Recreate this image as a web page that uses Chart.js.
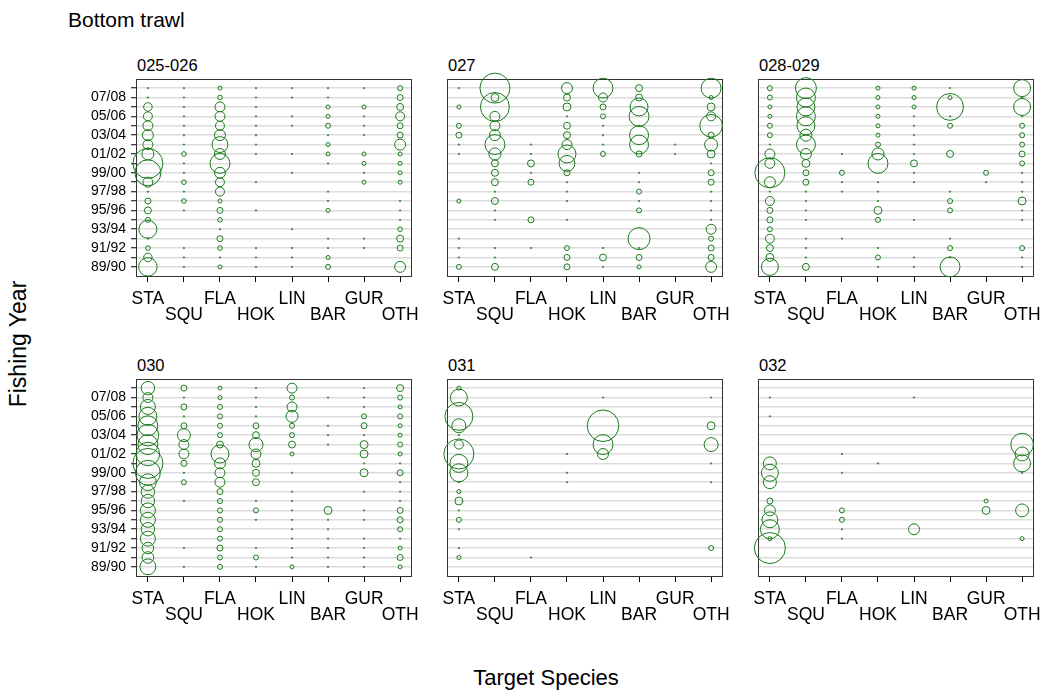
<!DOCTYPE html>
<html><head><meta charset="utf-8">
<script src="https://cdn.jsdelivr.net/npm/chart.js@4.4.1/dist/chart.umd.min.js"></script>
<style>
html,body{margin:0;padding:0;background:#fff;}
#wrap{position:relative;width:1042px;height:693px;overflow:hidden;background:#fff;font-family:"Liberation Sans",Arial,sans-serif;color:#000;}
.t{position:absolute;white-space:nowrap;}
canvas{position:absolute;}
</style></head><body>
<div id="wrap">
  <div class="t" style="left:68px;top:7px;font-size:21px;line-height:26px;">Bottom trawl</div>
  <div class="t" style="left:18px;top:344px;font-size:23px;line-height:26px;transform:translate(-50%,-50%) rotate(-90deg);">Fishing Year</div>
  <div class="t" style="left:546px;top:678px;font-size:22px;line-height:26px;transform:translate(-50%,-50%);">Target Species</div>
</div>
<script>
const species = ['STA','SQU','FLA','HOK','LIN','BAR','GUR','OTH'];
const years = ['89/90','90/91','91/92','92/93','93/94','94/95','95/96','96/97','97/98','98/99',
               '99/00','00/01','01/02','02/03','03/04','04/05','05/06','06/07','07/08','08/09'];
const yearTickLabels = ['89/90','91/92','93/94','95/96','97/98','99/00','01/02','03/04','05/06','07/08'];
const areaNames = ['025-026','027','028-029','030','031','032'];

// relative catch per species (rows, order as species) and fishing year (columns, 89/90 .. 08/09)
const area025_026 = [
  [38,8,2.4,0.2,36,2.8,5.4,4,0.2,11,75,100,16,11,13.4,11,9,8,0.2,0.2],
  [0.2,0.2,0.2,0,0,0,0.2,2.4,0.2,2.4,0.2,0.2,2.4,0.2,0.2,0.2,0.2,0.2,0.2,0.2],
  [1.8,0.2,2.4,4,0.2,2.4,4,1.8,9,9,13.4,44,13.4,28,13.4,9,11,11,2.4,1.8],
  [0.2,0.2,0.2,0,0,0,0.2,0,0,0.2,0,0,0.2,0.2,0.2,0.2,0.2,0.2,0.2,0.2],
  [0.2,0.2,0.2,0,0.2,0,0,0,0,0,0.2,0,0.2,0,0,0.2,0.2,0,0.2,0.2],
  [2.8,1.8,0.2,0.2,0,0,1.8,0.2,0.2,0,0,0.2,1.8,1.8,0.2,2.8,1.8,1.8,0.2,0.2],
  [0,0,0.2,0.2,0,0,0,0,0,1.8,0.2,1.8,1.8,0,0.2,0.2,0.2,1.8,0,0.2],
  [13.4,0,4,5.4,2.4,0.2,0.2,0.2,0,1.8,1.8,1.8,1.8,13.4,4,4,9,5.4,4,2.8]
];
const area027 = [
  [2.8,0.2,0.2,0.2,0,0,0,1.8,0,0,0,0,0.2,0.2,4,2.8,0,1.8,0,0.2],
  [5.4,0.2,0.2,0,0,0.2,0.2,5.4,0.2,5.4,5.4,5.4,16,44,13.4,11,11,93,7,100],
  [0,0,0.2,0,0,4,0,0,0,4,0.2,5.4,0.2,0.2,0,0,0,0,0,0],
  [4,4,2.8,0,0,0.2,0,0.2,0.2,0.2,4,28,36,11,5.4,5.4,0.2,7,5.4,13.4],
  [0.2,5.4,0.2,0,0,0,0,0,0,0,0,0,2.8,0.2,0.2,0.2,2.8,4,9,44],
  [1.8,4,0.2,54,0,0,2.8,0.2,2.8,0.2,0.2,0,4,40,40,0.2,44,36,5.4,5.4],
  [0,0,0,0,0,0,0,0,0,0,0,0,0.2,0.2,0,0,0,0,0,0],
  [13.4,4,4,2.8,11,0.2,0.2,0.2,0.2,4,4,0.2,7,18.8,4,57,9,7,1.8,44]
];
const area028_029 = [
  [32,7,5.4,9,2.8,4,4,9,0.2,13.4,100,11,11,0.2,2.8,2.8,1.8,1.8,2.8,2.8],
  [5.4,0.2,0.2,0.2,0,0.2,0.2,0.2,0.2,4,4,7,13.4,40,16,36,40,36,40,49],
  [0,0,0,0.2,0,0,0,0,0.2,0.2,2.8,0,0.2,0,0,0,0,0,0,0],
  [0.2,2.8,0.2,0,0,2.8,7,0.2,0.2,0.2,0,44,16,2.8,1.8,1.8,1.8,1.8,1.8,1.8],
  [0.2,0.2,0,0,0,0.2,0,0,0,0.2,0.2,5.4,0.2,0.2,0.2,0.2,0.2,1.8,1.8,1.8],
  [44,0.2,2.8,0.2,0,0,2.8,2.8,0.2,0,0,0,5.4,0,0,2.8,0.2,80,1.8,0.2],
  [0,0,0,0,0,0,0,0,0,0.2,2.8,0,0,0,0,0,0,0,0,0],
  [0.2,0.2,2.8,0,0,0.2,0.2,7,0.2,0.2,0.2,2.8,4,2.8,2.8,2.8,0.2,32,0.2,32]
];
const area030 = [
  [28,15,15,25,20,25,25,20,20,31,69,100,61,44,52,44,36,25,11,20],
  [0.2,0,0.2,0,0,0,0,0.2,0,2.8,0.2,4,11,11,18.8,4,0.2,4,0.2,4],
  [2.8,2.8,4,2.8,2.8,2.8,2.8,2.8,4,11,11,13.4,36,5.4,2.8,2.8,2.8,2.8,1.8,1.8],
  [0.2,2.8,0.2,0,0,0.2,2.8,0.2,0,5.4,5.4,7,11,21.8,5.4,4,0.2,0.2,0.2,0.2],
  [1.8,0.2,0.2,0.2,0.2,0.2,0.2,0.2,0.2,0,0.2,0,1.8,5.4,2.8,2.8,16,11,2.8,11],
  [0.2,0.2,0.2,0.2,0.2,0.2,7,0,0,0,0,0,0,0.2,0.2,0.2,0,0,0.2,0],
  [0.2,0.2,0.2,0.2,0,0.2,0.2,0,0.2,0,7,0.2,7,7,0.2,4,2.8,0.2,0.2,0.2],
  [1.8,4,1.8,0.2,2.8,4,4,0.2,0.2,0.2,4,0.2,1.8,2.8,1.8,1.8,2.8,1.8,2.8,5.4]
];
const area031 = [
  [0,1.8,0.2,0,0.2,2.8,0.2,7,1.8,0.2,36,36,100,9,0.2,21.8,87,0,32,1.8],
  [0,0,0,0,0,0,0,0,0,0,0,0,0,0,0,0,0,0,0,0],
  [0,0.2,0,0,0,0,0,0,0,0,0,0,0,0,0,0,0,0,0,0],
  [0,0,0,0,0,0,0,0,0,0.2,0.2,0,0.2,0,0,0,0,0,0,0],
  [0,0,0,0,0,0,0,0,0,0,0,0,13.4,44,0,111,0,0,0.2,0],
  [0,0,0,0,0,0,0,0,0,0,0,0,0,0,0,0,0,0,0,0],
  [0,0,0,0,0,0,0,0,0,0,0,0,0,0,0,0,0,0,0,0],
  [0,0,2.8,0,0,0,0,0,0,0.2,0,0.2,0,21.8,0,7,0,0,0.2,0]
];
const area032 = [
  [0,0,107,1.8,40,28,13.4,4,0,18.8,32,18.8,0,0,0,0,0.2,0,0.2,0],
  [0,0,0,0,0,0,0,0,0,0,0,0,0,0,0,0,0,0,0,0],
  [0,0,0,0.2,0.2,2.8,2.8,0,0,0,0.2,0,0.2,0,0,0,0,0,0,0],
  [0,0,0,0,0,0,0,0,0,0,0,0.2,0,0,0,0,0,0,0,0],
  [0,0,0,0,13.4,0,0,0,0,0,0,0,0,0,0,0,0,0,0.2,0],
  [0,0,0,0,0,0,0,0,0,0,0,0,0,0,0,0,0,0,0,0],
  [0,0,0,0,0,0,7,1.8,0,0,0,0,0,0,0,0,0,0,0,0],
  [0,0,0,1.8,0,0,18.8,0,0,0,0.2,32,21.8,57,0,0,0,0,0,0]
];
const areaData = [area025_026, area027, area028_029, area030, area031, area032];

// ---- layout (not data) ----
Chart.defaults.font.family = '"Liberation Sans", Arial, sans-serif';
Chart.defaults.color = '#000';
const PW = 276, PH = 197;
const lefts = [136, 447, 758], tops = [79, 379];
const PADL = 70, PADT = 20, PADR = 20, PADB = 58;
const green = '#1a7a1a';
const sizeToRadius = v => 1.5 * Math.sqrt(v);

const frame = {
  id: 'frame',
  beforeDatasetsDraw(chart) {
    const {ctx, chartArea: a} = chart;
    ctx.save();
    ctx.strokeStyle = '#333';
    ctx.lineWidth = 1;
    ctx.strokeRect(Math.round(a.left) + 0.5, Math.round(a.top) + 0.5,
                   Math.round(a.right - a.left) - 1, Math.round(a.bottom - a.top));
    ctx.restore();
  }
};

const wrap = document.getElementById('wrap');
areaNames.forEach((name, p) => {
  const col = p % 3, row = Math.floor(p / 3);
  const pl = lefts[col], pt = tops[row];
  const showY = col === 0;

  const title = document.createElement('div');
  title.className = 't';
  title.style.cssText = `left:${pl + 1}px;top:${pt - 23}px;font-size:16.5px;line-height:18px;`;
  title.textContent = name;
  wrap.appendChild(title);

  const cv = document.createElement('canvas');
  cv.width = PW + PADL + PADR; cv.height = PH + PADT + PADB;
  cv.style.left = (pl - PADL) + 'px'; cv.style.top = (pt - PADT) + 'px';
  cv.style.width = cv.width + 'px'; cv.style.height = cv.height + 'px';
  wrap.appendChild(cv);

  const points = [];
  areaData[p].forEach((vals, s) => vals.forEach((v, y) => {
    if (v > 0) points.push({x: s, y: y, r: sizeToRadius(v)});
  }));

  new Chart(cv, {
    type: 'bubble',
    data: {datasets: [{data: points, backgroundColor: 'rgba(0,0,0,0)', borderColor: green,
                       borderWidth: 1, clip: false}]},
    options: {
      responsive: false, animation: false, devicePixelRatio: 1, events: [],
      layout: {padding: {left: 0, top: PADT, right: PADR, bottom: 0}},
      plugins: {legend: {display: false}, tooltip: {enabled: false}},
      scales: {
        x: {
          type: 'linear', min: -0.33, max: 7.33,
          afterBuildTicks: s => { s.ticks = species.map((_, i) => ({value: i})); },
          afterFit: s => { s.height = PADB; },
          grid: {drawOnChartArea: false, drawTicks: true, tickLength: 6, tickColor: '#000', tickWidth: 1},
          border: {display: false},
          ticks: {autoSkip: false, maxRotation: 0, padding: 10,
                  font: {size: 17.5, lineHeight: 0.87}, color: '#000',
                  callback: v => (v % 2 === 0 ? species[v] : ['', species[v]])}
        },
        y: {
          type: 'linear', min: -0.97, max: 19.97,
          afterBuildTicks: s => { s.ticks = years.map((_, i) => ({value: i})); },
          afterFit: s => { s.width = PADL; },
          grid: {color: '#dcdcdc', lineWidth: 1.5, drawTicks: showY, tickLength: 5,
                 tickColor: '#000', tickWidth: 1},
          border: {display: false},
          ticks: {autoSkip: false, padding: 5, font: {size: 14}, color: '#000',
                  callback: v => (showY && yearTickLabels.includes(years[v]) ? years[v] : '')}
        }
      }
    },
    plugins: [frame]
  });
});
</script>
</body></html>
